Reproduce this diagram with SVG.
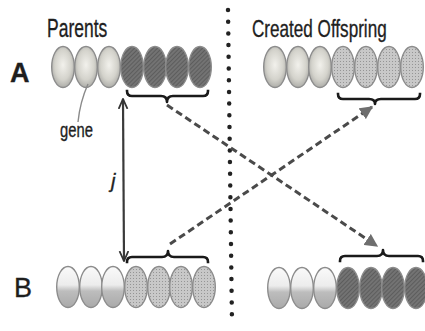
<svg xmlns="http://www.w3.org/2000/svg" width="425" height="331" viewBox="0 0 425 331">
  <defs>
    <style>
      .lbl { font-family: "Liberation Sans", Arial, sans-serif; fill: #1e1e1e; stroke: #1e1e1e; stroke-width: 0.35; }
      .gene { stroke: #8a8a8a; stroke-width: 1.4; }
      .brace { fill: none; stroke: #1a1a1a; stroke-width: 2.6; stroke-linejoin: round; stroke-linecap: square; }
      .cross { fill: none; stroke: #4a4a4a; stroke-width: 3; stroke-dasharray: 7 4; }
      .divider { fill: none; stroke: #222; stroke-width: 4.5; stroke-linecap: round; stroke-dasharray: 0 11.7; }
    </style>
    <radialGradient id="lightA" cx="0.5" cy="0.45" r="0.6">
      <stop offset="0" stop-color="#f2f1ec"/>
      <stop offset="0.6" stop-color="#d4d3cc"/>
      <stop offset="1" stop-color="#a4a4a0"/>
    </radialGradient>
    <linearGradient id="lightB" x1="0" y1="0" x2="0" y2="1">
      <stop offset="0" stop-color="#fafafa"/>
      <stop offset="0.45" stop-color="#ececec"/>
      <stop offset="0.6" stop-color="#bdbdbd"/>
      <stop offset="1" stop-color="#a9a9a9"/>
    </linearGradient>
    <pattern id="hatch" width="3" height="3" patternUnits="userSpaceOnUse" patternTransform="rotate(45)">
      <rect width="3" height="3" fill="#737373"/>
      <line x1="0" y1="0" x2="0" y2="3" stroke="#4e4e4e" stroke-width="1.2"/>
    </pattern>
    <pattern id="dots" width="3" height="3" patternUnits="userSpaceOnUse">
      <rect width="3" height="3" fill="#c8c8c8"/>
      <rect width="1" height="1" fill="#959595"/>
    </pattern>
    <marker id="tri" viewBox="0 0 10 10" refX="9" refY="5" markerWidth="4.4" markerHeight="4.4" orient="auto" markerUnits="strokeWidth">
      <path d="M0,0 L10,5 L0,10 Z" fill="#6e6e6e"/>
    </marker>
    <marker id="vee" viewBox="0 0 10 10" refX="9" refY="5" markerWidth="5" markerHeight="5" orient="auto-start-reverse" markerUnits="strokeWidth">
      <path d="M0,1 L9,5 L0,9" fill="none" stroke="#333" stroke-width="1.6"/>
    </marker>
    <ellipse id="g" rx="11.3" ry="20.5" stroke="#8c8c8c" stroke-width="1.4"/>
  </defs>

  <rect width="425" height="331" fill="#ffffff"/>

  <!-- headings and row labels (narrow lettering via horizontal scale) -->
  <text class="lbl" transform="translate(47,37) scale(0.70,1)" font-size="25">Parents</text>
  <text class="lbl" transform="translate(252,37) scale(0.713,1)" font-size="24">Created Offspring</text>
  <text class="lbl" x="10" y="82" font-size="27" font-weight="bold">A</text>
  <text class="lbl" x="14" y="297" font-size="27">B</text>

  <!-- separator between parents and offspring -->
  <line class="divider" x1="228" y1="10" x2="232" y2="324"/>

  <!-- parent A -->
  <g id="parentA">
    <use href="#g" x="63" y="67" fill="url(#lightA)"/>
    <use href="#g" x="86" y="67" fill="url(#lightA)"/>
    <use href="#g" x="109" y="67" fill="url(#lightA)"/>
    <use href="#g" x="132" y="67" fill="url(#hatch)"/>
    <use href="#g" x="155" y="67" fill="url(#hatch)"/>
    <use href="#g" x="177" y="67" fill="url(#hatch)"/>
    <use href="#g" x="200" y="67" fill="url(#hatch)"/>
  </g>

  <!-- gene label -->
  <g id="geneLabel">
    <path class="gene" d="M78,122 Q80,102 88,84" fill="none"/>
    <text class="lbl" transform="translate(60,137) scale(0.74,1)" font-size="20" stroke-width="0.2">gene</text>
  </g>

  <!-- parent B -->
  <g id="parentB">
    <use href="#g" x="68" y="287" fill="url(#lightB)"/>
    <use href="#g" x="91" y="287" fill="url(#lightB)"/>
    <use href="#g" x="113" y="287" fill="url(#lightB)"/>
    <use href="#g" x="136" y="287" fill="url(#dots)"/>
    <use href="#g" x="159" y="287" fill="url(#dots)"/>
    <use href="#g" x="181" y="287" fill="url(#dots)"/>
    <use href="#g" x="204" y="287" fill="url(#dots)"/>
  </g>

  <!-- offspring A -->
  <g id="offspringA">
    <use href="#g" x="275" y="67" fill="url(#lightA)"/>
    <use href="#g" x="298" y="67" fill="url(#lightA)"/>
    <use href="#g" x="320" y="67" fill="url(#lightA)"/>
    <use href="#g" x="343" y="67" fill="url(#dots)"/>
    <use href="#g" x="366" y="67" fill="url(#dots)"/>
    <use href="#g" x="389" y="67" fill="url(#dots)"/>
    <use href="#g" x="412" y="67" fill="url(#dots)"/>
  </g>

  <!-- offspring B -->
  <g id="offspringB">
    <use href="#g" x="279" y="288" fill="url(#lightB)"/>
    <use href="#g" x="302" y="288" fill="url(#lightB)"/>
    <use href="#g" x="325" y="288" fill="url(#lightB)"/>
    <use href="#g" x="348" y="288" fill="url(#hatch)"/>
    <use href="#g" x="371" y="288" fill="url(#hatch)"/>
    <use href="#g" x="393" y="288" fill="url(#hatch)"/>
    <use href="#g" x="416" y="288" fill="url(#hatch)"/>
  </g>

  <!-- braces marking the swapped tail segments -->
  <g id="braces">
    <path class="brace" d="M127,91 Q127,96 132,96 L161,96 Q167,96 167,102 Q167,96 173,96 L203,96 Q208,96 208,91"/>
    <path class="brace" d="M338,94 Q338,99 343,99 L369,99 Q375,99 375,104 Q375,99 381,99 L415,99 Q420,99 420,94"/>
    <path class="brace" d="M127,262 Q127,257 132,257 L162,257 Q168,257 168,251 Q168,257 174,257 L203,257 Q208,257 208,262"/>
    <path class="brace" d="M340,261 Q340,256 345,256 L377,256 Q383,256 383,250 Q383,256 389,256 L418,256 Q423,256 423,261"/>
  </g>

  <!-- crossover connectors -->
  <g id="connectors">
    <line class="cross" x1="167" y1="105" x2="377" y2="246" marker-end="url(#tri)"/>
    <line class="cross" x1="170" y1="244" x2="372" y2="107" marker-end="url(#tri)"/>
    <line x1="123" y1="99" x2="124" y2="261" stroke="#3a3a3a" stroke-width="2.2" marker-start="url(#vee)" marker-end="url(#vee)"/>
    <text class="lbl" x="111" y="188" font-size="20" font-style="italic">j</text>
  </g>
</svg>
